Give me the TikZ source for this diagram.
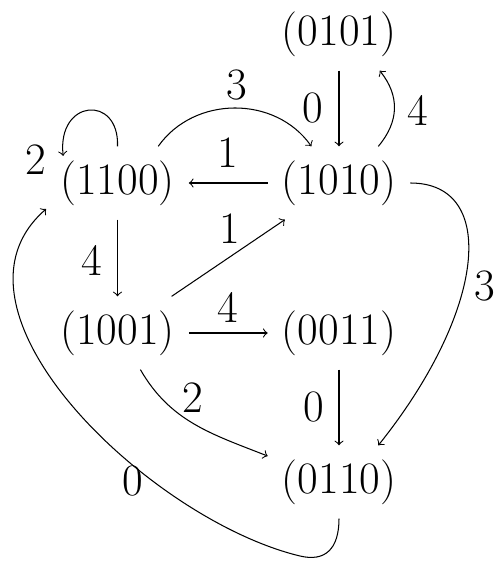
\documentclass[tikz,border=0pt]{standalone}
\usetikzlibrary{calc}
\begin{document}
\begin{tikzpicture}[x=0.3846pt,y=-0.3846pt,
  every node/.style={font=\fontsize{17.28}{20}\selectfont},
  st/.style={inner sep=5.46pt, outer sep=0pt},
  lab/.style={inner sep=0pt},
  ar/.style={->, line width=0.4pt}]
\useasboundingbox (0,0) rectangle (495,561);
% states
\node[st] (a0101) at (339,34) {(0101)};
\node[st] (a1010) at (339,183) {(1010)};
\node[st] (a1100) at (117.5,183) {(1100)};
\node[st] (a1001) at (117.5,333) {(1001)};
\node[st] (a0011) at (339,333) {(0011)};
\node[st] (a0110) at (339,482) {(0110)};
% straight transitions
\draw[ar] (a0101) -- (a1010);
\draw[ar] (a1010) -- (a1100);
\draw[ar] (a1100) -- (a1001);
\draw[ar] (a1001) -- (a1010);
\draw[ar] (a1001) -- (a0011);
\draw[ar] (a0011) -- (a0110);
% curved transitions
\draw[ar] (a1010.43) .. controls +(21,-25) and +(20,25) .. (a0101.-42);
\draw[ar] (a1100.42) .. controls +(36,-51) and +(-36,-51) .. (a1010.127);
\draw[ar] (a1100.north) .. controls +(2,-52) and +(-6,-57) .. ($(a1100.north west)+(17,9.5)$);
\draw[ar] (a1001.-58) .. controls +(30,52) and +(-56,-22) .. (a0110.160);
\draw[ar] (a1010.east) .. controls +(88,0) and +(108,-135) .. (a0110.43);
\draw[ar] (a0110.south) .. controls +(0,30.5) and +(25,6) .. (300,556)
  .. controls (150,520) and (-70,310) .. (a1100.200);
% labels
\node[lab] (l0a) at (313,108) {0};
\node[lab] (l4a) at (418,110) {4};
\node[lab] (l3a) at (237,85) {3};
\node[lab] (l2a) at (36,160) {2};
\node[lab] (l1a) at (228,153) {1};
\node[lab] (l4b) at (92,260) {4};
\node[lab] (l1b) at (230,229) {1};
\node[lab] (l4c) at (228,307) {4};
\node[lab] (l0b) at (314,407) {0};
\node[lab] (l2b) at (193,398) {2};
\node[lab] (l3b) at (485,286) {3};
\node[lab] (l0c) at (133,481) {0};
\end{tikzpicture}
\end{document}
